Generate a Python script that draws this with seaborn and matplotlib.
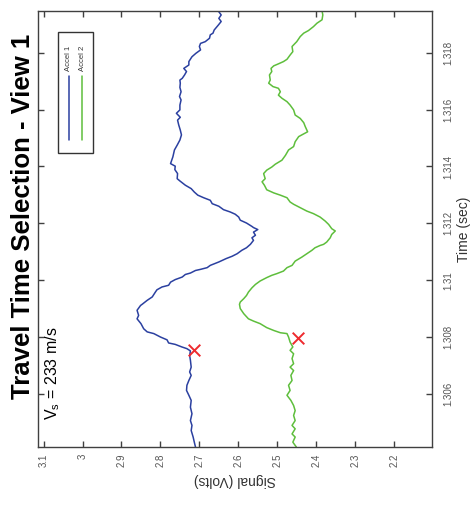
import matplotlib
matplotlib.use("Agg")
import matplotlib.pyplot as plt
import seaborn as sns
import pandas as pd
from matplotlib.patches import Rectangle
from matplotlib.lines import Line2D

# ---------------- data ----------------
accel1_time = [1.31948, 1.31933, 1.31921, 1.31910, 1.31898, 1.31880, 1.31869, 1.31863, 1.31851, 1.31839,
               1.31833, 1.31822, 1.31810, 1.31798, 1.31786, 1.31769, 1.31757, 1.31745, 1.31734, 1.31722,
               1.31710, 1.31704, 1.31693, 1.31678, 1.31663, 1.31646, 1.31634, 1.31616, 1.31599, 1.31587,
               1.31573, 1.31563, 1.31546, 1.31528, 1.31511, 1.31493, 1.31475, 1.31458,
               1.31434, 1.31410, 1.31401, 1.31389, 1.31375, 1.31357, 1.31349, 1.31334, 1.31322, 1.31310,
               1.31299, 1.31290, 1.31281, 1.31269, 1.31260, 1.31248, 1.31240, 1.31232, 1.31222, 1.31211,
               1.31201, 1.31189, 1.31185, 1.31178, 1.31169, 1.31158, 1.31149, 1.31140, 1.31126, 1.31114,
               1.31105, 1.31093, 1.31084, 1.31076, 1.31064, 1.31052, 1.31044, 1.31038, 1.31034, 1.31025,
               1.31020, 1.31011, 1.31002, 1.30993, 1.30982, 1.30976, 1.30966, 1.30958, 1.30941, 1.30929,
               1.30915,
               1.30911, 1.30894, 1.30876, 1.30864, 1.30847, 1.30829, 1.30818, 1.30812, 1.30800, 1.30790,
               1.30779, 1.30774, 1.30765, 1.30759, 1.30751, 1.30735, 1.30718, 1.30694, 1.30677, 1.30665,
               1.30647, 1.30630, 1.30612, 1.30595, 1.30577, 1.30553, 1.30530, 1.30506, 1.30489, 1.30471,
               1.30448, 1.30430, 1.30413]
accel1_signal = [2.652, 2.644, 2.650, 2.644, 2.651, 2.662, 2.665, 2.672, 2.674, 2.685,
                 2.697, 2.700, 2.697, 2.709, 2.719, 2.727, 2.727, 2.740, 2.733, 2.738,
                 2.744, 2.750, 2.749, 2.750, 2.747, 2.751, 2.747, 2.750, 2.750, 2.759,
                 2.749, 2.756, 2.753, 2.749, 2.746, 2.750, 2.757, 2.764,
                 2.768, 2.774, 2.762, 2.763, 2.756, 2.757, 2.750, 2.736, 2.721, 2.713,
                 2.704, 2.689, 2.672, 2.667, 2.650, 2.638, 2.621, 2.608, 2.599, 2.595,
                 2.579, 2.565, 2.561, 2.550, 2.561, 2.556, 2.565, 2.561, 2.569, 2.579,
                 2.591, 2.603, 2.616, 2.631, 2.650, 2.672, 2.680, 2.697, 2.710, 2.723,
                 2.736, 2.744, 2.762, 2.774, 2.779, 2.796, 2.809, 2.813, 2.821, 2.834,
                 2.847,
                 2.851, 2.860, 2.856, 2.860, 2.850, 2.843, 2.834, 2.817, 2.800, 2.783,
                 2.779, 2.762, 2.745, 2.732, 2.723, 2.725, 2.723, 2.721, 2.725, 2.721,
                 2.727, 2.732, 2.733, 2.727, 2.721, 2.723, 2.719, 2.723, 2.719, 2.721,
                 2.716, 2.713, 2.710]

accel2_time = [1.31948, 1.31933, 1.31916, 1.31904, 1.31892, 1.31878, 1.31869, 1.31857, 1.31839, 1.31822,
               1.31804, 1.31792, 1.31777, 1.31769, 1.31761, 1.31754, 1.31745, 1.31734, 1.31722, 1.31704,
               1.31693, 1.31681, 1.31675, 1.31663, 1.31651, 1.31640, 1.31628, 1.31616, 1.31599, 1.31581,
               1.31569, 1.31554, 1.31540, 1.31522, 1.31511, 1.31505, 1.31487, 1.31470, 1.31458,
               1.31439, 1.31422, 1.31408, 1.31398, 1.31387, 1.31375, 1.31357, 1.31346, 1.31334, 1.31318,
               1.31307, 1.31299, 1.31290, 1.31275, 1.31267, 1.31255, 1.31243, 1.31234, 1.31222, 1.31208,
               1.31196, 1.31181, 1.31173, 1.31161, 1.31149, 1.31134, 1.31126, 1.31122, 1.31114, 1.31105,
               1.31093, 1.31081, 1.31067, 1.31052, 1.31044, 1.31032, 1.31023, 1.31017, 1.31009, 1.30997,
               1.30985, 1.30973, 1.30958, 1.30946, 1.30935, 1.30923,
               1.30915, 1.30900, 1.30882, 1.30864, 1.30856, 1.30847, 1.30833, 1.30823, 1.30815, 1.30812,
               1.30800, 1.30782, 1.30765, 1.30753, 1.30741, 1.30724, 1.30706, 1.30694, 1.30682, 1.30665,
               1.30647, 1.30630, 1.30612, 1.30595, 1.30577, 1.30559, 1.30541, 1.30524, 1.30506, 1.30489,
               1.30477, 1.30459, 1.30448, 1.30430, 1.30413]
accel2_signal = [2.385, 2.383, 2.385, 2.398, 2.407, 2.420, 2.432, 2.441, 2.450, 2.462,
                 2.460, 2.467, 2.475, 2.484, 2.497, 2.509, 2.516, 2.514, 2.520, 2.518,
                 2.522, 2.511, 2.497, 2.492, 2.497, 2.488, 2.475, 2.467, 2.458, 2.454,
                 2.441, 2.432, 2.428, 2.422, 2.437, 2.445, 2.454, 2.458, 2.471,
                 2.479, 2.488, 2.505, 2.514, 2.527, 2.535, 2.531, 2.539, 2.533, 2.527,
                 2.509, 2.492, 2.475, 2.467, 2.458, 2.441, 2.424, 2.407, 2.390, 2.377,
                 2.368, 2.360, 2.351, 2.360, 2.364, 2.373, 2.381, 2.390, 2.403, 2.411,
                 2.424, 2.437, 2.454, 2.462, 2.475, 2.484, 2.501, 2.514, 2.527, 2.544,
                 2.556, 2.565, 2.574, 2.579, 2.586, 2.595,
                 2.597, 2.595, 2.586, 2.574, 2.561, 2.544, 2.527, 2.509, 2.492, 2.475,
                 2.471, 2.467, 2.460, 2.467, 2.458, 2.462, 2.458, 2.467, 2.458, 2.465,
                 2.462, 2.471, 2.467, 2.475, 2.465, 2.458, 2.454, 2.458, 2.454, 2.462,
                 2.454, 2.462, 2.454, 2.460, 2.451]

pick_time = [1.30753, 1.30798]
pick_signal = [2.7146, 2.4479]

series_names = ["Accel 1", "Accel 2"]
time_ticks = [1.306, 1.308, 1.310, 1.312, 1.314, 1.316, 1.318]
time_tick_labels = ["1.306", "1.308", "1.31", "1.312", "1.314", "1.316", "1.318"]
signal_ticks = [3.1, 3.0, 2.9, 2.8, 2.7, 2.6, 2.5, 2.4, 2.3, 2.2]
signal_tick_labels = ["3.1", "3", "2.9", "2.8", "2.7", "2.6", "2.5", "2.4", "2.3", "2.2"]

title_text = "Travel Time Selection - View 1"
vs_text = r"$\mathregular{V_s}$ = 233 m/s"

# ---------------- style ----------------
sns.set_style("white")
plt.rcParams["font.family"] = ["Liberation Sans", "DejaVu Sans"]
plt.rcParams["mathtext.fontset"] = "custom"
plt.rcParams["mathtext.rm"] = "Liberation Sans"

blue = "#2B40A0"
green = "#5EBE3C"
red = "#EE2A2E"
axis_col = "#404040"

df = pd.concat([
    pd.DataFrame({"Time": accel1_time, "Signal": accel1_signal, "Sensor": series_names[0]}),
    pd.DataFrame({"Time": accel2_time, "Signal": accel2_signal, "Sensor": series_names[1]}),
], ignore_index=True)
picks = pd.DataFrame({"Time": pick_time, "Signal": pick_signal})

W, H = 474, 508
fig = plt.figure(figsize=(W / 100, H / 100), dpi=100)
ax = fig.add_axes([38 / W, 1 - 447 / H, 394 / W, 436.3 / H])

sns.lineplot(data=df, x="Signal", y="Time", hue="Sensor", palette=[blue, green],
             orient="y", sort=False, estimator=None, linewidth=1.1, legend=False, ax=ax)
sns.scatterplot(data=picks, x="Signal", y="Time", marker="x", s=70, color=red,
                linewidth=1.4, ax=ax, zorder=5)

ax.set_xlim(3.1144, 2.1026)
ax.set_ylim(1.30413, 1.31948)

for sp in ax.spines.values():
    sp.set_visible(True)
    sp.set_color(axis_col)
    sp.set_linewidth(1.0)

ax.set_xticks(signal_ticks)
ax.set_xticklabels(signal_tick_labels, rotation=90, va="top", ha="center")
ax.set_yticks(time_ticks)
ax.set_yticklabels(time_tick_labels, rotation=90, va="center", ha="left")
ax.tick_params(axis="both", which="both", direction="in", length=4.5, width=1.0,
               color=axis_col, labelcolor="#555555", labelsize=7,
               top=True, bottom=True, left=True, right=True,
               labelleft=False, labelright=True, labelbottom=True, labeltop=False)
ax.tick_params(axis="x", pad=5)
ax.tick_params(axis="y", pad=8)

ax.set_xlabel("Signal (Volts)", rotation=180, fontsize=10, color="#333333", labelpad=4)
ax.yaxis.set_label_position("right")
ax.set_ylabel("Time (sec)", rotation=90, fontsize=10, color="#333333", labelpad=2.5)

# title (rotated with the whole chart)
fig.text(23 / W, 1 - 216 / H, title_text, rotation=90, ha="center", va="center",
         fontsize=18.5, fontweight="bold", color="black")

# annotation
fig.text(53 / W, 1 - 420 / H, vs_text, rotation=90, ha="center", va="bottom",
         fontsize=11.5, color="black")

# manual rotated legend
lx0, lx1, ly0, ly1 = 58, 93, 32, 153
fig.patches.append(Rectangle((lx0 / W, 1 - ly1 / H), (lx1 - lx0) / W, (ly1 - ly0) / H,
                             transform=fig.transFigure, facecolor="white",
                             edgecolor="#333333", linewidth=1.0, zorder=6))
for cx, col, name in [(69, blue, series_names[0]), (82, green, series_names[1])]:
    fig.lines.append(Line2D([cx / W, cx / W], [1 - 140 / H, 1 - 76 / H],
                            transform=fig.transFigure, color=col, linewidth=1.1, zorder=7))
    fig.text(cx / W, 1 - 71 / H, name, rotation=90, ha="center", va="bottom",
             fontsize=5.5, color="#333333", zorder=7)

fig.savefig("out.png", dpi=100)
